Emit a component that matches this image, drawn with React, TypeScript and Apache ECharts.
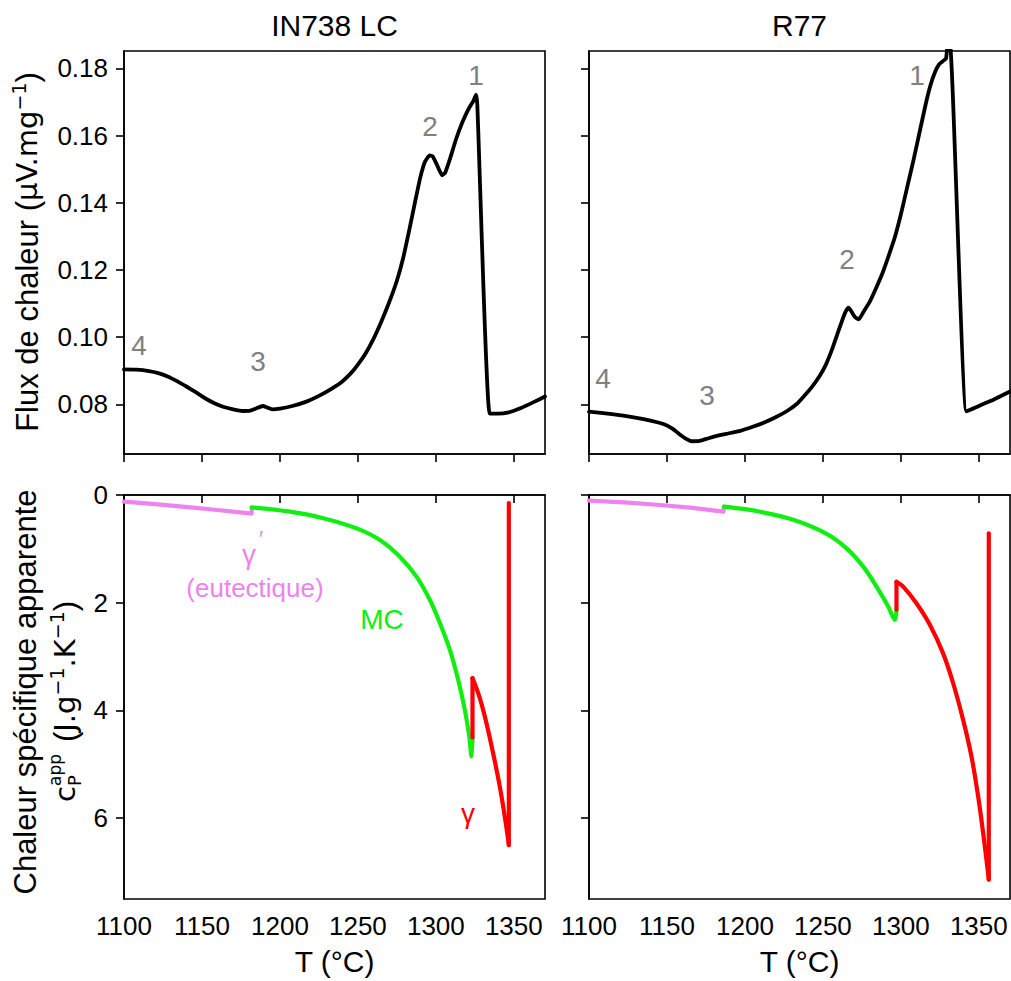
import React, { useEffect, useRef } from 'react';
import * as echarts from 'echarts';

const FONT = '"Liberation Sans", Arial, Helvetica, sans-serif';
const MATH = '"DejaVu Sans", sans-serif';

// ---- axes ticks ----
const xTicks = [1100, 1150, 1200, 1250, 1300, 1350];
const fluxTicks = [0.08, 0.1, 0.12, 0.14, 0.16, 0.18];
const cpTicks = [0, 2, 4, 6];

const panelTitles = ['IN738 LC', 'R77'];

// ---- heat flux (top row) ----
const fluxIN738: [number, number][] = [
  [1100, 0.0904], [1108, 0.0903], [1116, 0.0899], [1122, 0.0893], [1128, 0.0883], [1134, 0.0869],
  [1140, 0.0853], [1146, 0.0836], [1152, 0.0818], [1158, 0.0803], [1164, 0.0792], [1170, 0.0785],
  [1176, 0.078], [1181, 0.0781], [1185, 0.0788], [1189, 0.0795], [1192, 0.079], [1195, 0.0785],
  [1200, 0.0787], [1208, 0.0795], [1217, 0.0808], [1225, 0.0825], [1233, 0.0846], [1240, 0.0868],
  [1246, 0.0895], [1250, 0.0918], [1255, 0.0952], [1260, 0.0995], [1265, 0.1046], [1270, 0.1103],
  [1275, 0.1168], [1279, 0.1235], [1283, 0.132], [1287, 0.141], [1290, 0.1475], [1293, 0.1522],
  [1296, 0.1541], [1298, 0.1538], [1301, 0.151], [1304, 0.1482], [1306, 0.149], [1309, 0.153],
  [1313, 0.159], [1317, 0.164], [1321, 0.168], [1324, 0.1703], [1325.8, 0.1722], [1326.6, 0.169],
  [1334.5, 0.0772], [1340, 0.0772], [1346, 0.0775], [1355, 0.079], [1362, 0.0805], [1370, 0.0823],
];

const fluxR77: [number, number][] = [
  [1100, 0.0778], [1112, 0.0772], [1124, 0.0765], [1135, 0.0756], [1145, 0.0745], [1150, 0.0737],
  [1154, 0.0726], [1158, 0.0711], [1162, 0.0698], [1166, 0.069], [1171, 0.0691], [1176, 0.0698],
  [1180, 0.0704], [1188, 0.0712], [1197, 0.0721], [1205, 0.0733], [1212, 0.0745], [1220, 0.0762],
  [1227, 0.078], [1233, 0.08], [1238, 0.0825], [1243, 0.0852], [1248, 0.0885], [1252, 0.0919],
  [1256, 0.0965], [1259, 0.1005], [1262, 0.1045], [1264.5, 0.1075], [1266.5, 0.1088], [1268.5, 0.1075],
  [1270.5, 0.106], [1273, 0.1053], [1276, 0.1075], [1280, 0.1105], [1284, 0.1145], [1288, 0.1188],
  [1292, 0.124], [1296, 0.1295], [1300, 0.1365], [1304, 0.1445], [1308, 0.1525], [1312, 0.161],
  [1316, 0.1695], [1319, 0.175], [1322, 0.179], [1324.5, 0.1812], [1327, 0.1822], [1329, 0.183],
  [1330, 0.187], [1331.5, 0.187], [1342, 0.0779], [1350, 0.0795], [1360, 0.0815], [1370, 0.0838],
];

// ---- apparent specific heat (bottom row) ----
const cpIN738GammaPrime: [number, number][] = [
  [1100, 0.124], [1120, 0.17], [1141, 0.225], [1160, 0.278], [1181.8, 0.345], [1182, 0.235],
];
const cpIN738MC: [number, number][] = [
  [1181.8, 0.23], [1206.4, 0.31], [1227.8, 0.43], [1249.2, 0.62], [1264.1, 0.835], [1276.9, 1.145],
  [1287.6, 1.515], [1296.2, 1.95], [1302.6, 2.38], [1309, 2.876], [1314.3, 3.43], [1318.6, 3.99],
  [1321.4, 4.48], [1322.9, 4.855], [1323.5, 4.5],
];
const cpIN738GammaStep: [number, number][] = [[1323.5, 4.5], [1323.5, 3.4]];
const cpIN738Gamma: [number, number][] = [
  [1323.5, 3.4], [1328.2, 3.77], [1332.5, 4.24], [1336.7, 4.79], [1341, 5.41], [1344.2, 5.97],
  [1346.4, 6.4], [1346.8, 6.5],
];
const cpIN738GammaEnd: [number, number][] = [[1346.8, 6.5], [1346.8, 0.15]];

const cpR77GammaPrime: [number, number][] = [
  [1100, 0.105], [1125, 0.14], [1145.5, 0.186], [1165, 0.235], [1186.2, 0.31], [1186.5, 0.22],
];
const cpR77MC: [number, number][] = [
  [1186.5, 0.216], [1198, 0.255], [1209.6, 0.31], [1231, 0.46], [1252.4, 0.72], [1265.2, 0.99],
  [1275.9, 1.33], [1284.4, 1.7], [1291.9, 2.07], [1296.2, 2.32], [1297.2, 2.13],
];
const cpR77GammaStep: [number, number][] = [[1297.2, 2.13], [1297.2, 1.61]];
const cpR77Gamma: [number, number][] = [
  [1297.2, 1.61], [1301.5, 1.7], [1310, 2.01], [1318.6, 2.41], [1327.1, 2.94], [1333.5, 3.49],
  [1339.9, 4.17], [1345.3, 4.855], [1349.6, 5.6], [1352.8, 6.28], [1354.9, 6.77], [1356.4, 7.14],
];
const cpR77GammaEnd: [number, number][] = [[1356.4, 7.14], [1356.4, 0.71]];

const VIOLET = '#ee82ee';
const GREEN = '#11ee11';
const RED = '#ff0000';
const GREY = '#808080';

function txt(text: string, x: number, y: number, size: number, color: string, extra: any = {}) {
  return {
    type: 'text',
    x,
    y,
    silent: true,
    ...extra,
    style: {
      text,
      fill: color,
      fontSize: size,
      fontFamily: extra.family || FONT,
      textAlign: extra.align || 'center',
      align: extra.align || 'center',
      textVerticalAlign: 'middle',
      verticalAlign: 'middle',
      ...(extra.style || {}),
    },
  };
}

export default function App() {
  const ref = useRef<HTMLDivElement>(null);

  useEffect(() => {
    if (!ref.current) return;
    const chart = echarts.init(ref.current, undefined, { renderer: 'svg' });

    const grid = [
      { left: 124, top: 51, width: 421, height: 403 },
      { left: 589, top: 51, width: 421, height: 403 },
      { left: 124, top: 495, width: 421, height: 404 },
      { left: 589, top: 495, width: 421, height: 404 },
    ].map((g) => ({ ...g, show: true, borderColor: '#000', borderWidth: 1.6, backgroundColor: 'transparent' }));

    const mkX = (gi: number, showLabel: boolean) => ({
      type: 'value',
      gridIndex: gi,
      min: 1100,
      max: 1370,
      axisLine: { show: true, lineStyle: { color: '#000', width: 1.6 } },
      axisTick: { show: true, length: 8, lineStyle: { color: '#000', width: 1.6 }, customValues: xTicks },
      axisLabel: {
        show: showLabel,
        customValues: xTicks,
        fontSize: 26,
        color: '#000',
        fontFamily: FONT,
        margin: 14,
        formatter: (v: number) => String(v),
      },
      splitLine: { show: false },
      name: showLabel ? 'T (°C)' : '',
      nameLocation: 'middle',
      nameGap: 47,
      nameTextStyle: { fontSize: 30, color: '#000', fontFamily: FONT },
    });

    const mkYFlux = (gi: number, showLabel: boolean) => ({
      type: 'value',
      gridIndex: gi,
      min: 0.0652,
      max: 0.1852,
      axisLine: { show: true, lineStyle: { color: '#000', width: 1.6 } },
      axisTick: { show: true, length: 8, lineStyle: { color: '#000', width: 1.6 }, customValues: fluxTicks },
      axisLabel: {
        show: showLabel,
        customValues: fluxTicks,
        fontSize: 26,
        color: '#000',
        fontFamily: FONT,
        margin: 16,
        formatter: (v: number) => v.toFixed(2),
      },
      splitLine: { show: false },
    });

    const mkYCp = (gi: number, showLabel: boolean) => ({
      type: 'value',
      gridIndex: gi,
      min: 0,
      max: 7.5,
      inverse: true,
      axisLine: { show: true, lineStyle: { color: '#000', width: 1.6 } },
      axisTick: { show: true, length: 8, lineStyle: { color: '#000', width: 1.6 }, customValues: cpTicks },
      axisLabel: {
        show: showLabel,
        customValues: cpTicks,
        fontSize: 26,
        color: '#000',
        fontFamily: FONT,
        margin: 16,
        formatter: (v: number) => String(v),
      },
      splitLine: { show: false },
    });

    const line = (data: [number, number][], gi: number, color: string, smooth: number | boolean = false) => ({
      type: 'line',
      xAxisIndex: gi,
      yAxisIndex: gi,
      data,
      showSymbol: false,
      symbol: 'none',
      smooth,
      clip: true,
      lineStyle: { color, width: color === '#000' ? 3.8 : 4.2, join: 'round', cap: 'round' },
      z: 3,
    });

    const richSup = { fontSize: 19, fontFamily: MATH, fill: '#000', verticalAlign: 'top', lineHeight: 20 };
    const richN = { fontSize: 31, fontFamily: FONT, fill: '#000', lineHeight: 36 };
    const richM = { fontSize: 29, fontFamily: MATH, fill: '#000', lineHeight: 36 };

    const graphic: any[] = [
      txt(panelTitles[0], 334.5, 25, 30, '#000'),
      txt(panelTitles[1], 799.5, 25, 30, '#000'),
      // top-left peak labels
      txt('1', 476, 75, 28, GREY),
      txt('2', 430, 126, 28, GREY),
      txt('3', 258, 361, 28, GREY),
      txt('4', 139, 345, 28, GREY),
      // top-right peak labels
      txt('1', 917, 75, 28, GREY),
      txt('2', 847, 259, 28, GREY),
      txt('3', 707, 395, 28, GREY),
      txt('4', 603, 378, 28, GREY),
      // bottom-left phase labels
      txt('γ', 249, 554, 28, VIOLET),
      txt('′', 261, 538, 22, VIOLET),
      txt('(eutectique)', 255, 588, 26, VIOLET),
      txt('MC', 382, 619, 28, GREEN),
      txt('γ', 468, 813, 28, RED),
      // y axis label, top
      {
        type: 'text',
        x: 27,
        y: 252,
        rotation: Math.PI / 2,
        silent: true,
        style: {
          text: '{n|Flux de chaleur (}{m|μV.mg}{s|−1}{n|)}',
          fill: '#000',
          fontSize: 31,
          fontFamily: FONT,
          textAlign: 'center',
          align: 'center',
          textVerticalAlign: 'middle',
          verticalAlign: 'middle',
          rich: { n: richN, m: richM, s: richSup },
        },
      },
      // y axis label, bottom line 1
      txt('Chaleur spécifique apparente', 25, 692, 31, '#000', { rotation: Math.PI / 2 }),
      // y axis label, bottom line 2
      {
        type: 'group',
        x: 65,
        y: 802,
        rotation: Math.PI / 2,
        silent: true,
        children: [
          txt('c', 0, 0, 29, '#000', { align: 'left', family: MATH }),
          txt('app', 16, -10, 17, '#000', { align: 'left', family: MATH }),
          txt('P', 16, 9, 18, '#000', { align: 'left', family: MATH }),
          {
            type: 'text',
            x: 60,
            y: 0,
            silent: true,
            style: {
              text: '{n|(}{m|J.g}{s|−1}{m|.K}{s|−1}{n|)}',
              fill: '#000',
              fontSize: 31,
              fontFamily: FONT,
              textAlign: 'left',
              align: 'left',
              textVerticalAlign: 'middle',
              verticalAlign: 'middle',
              rich: { n: richN, m: richM, s: richSup },
            },
          },
        ],
      },
    ];

    chart.setOption({
      animation: false,
      backgroundColor: '#fff',
      textStyle: { fontFamily: FONT },
      grid,
      xAxis: [mkX(0, false), mkX(1, false), mkX(2, true), mkX(3, true)],
      yAxis: [mkYFlux(0, true), mkYFlux(1, false), mkYCp(2, true), mkYCp(3, false)],
      series: [
        line(fluxIN738, 0, '#000', 0.15),
        line(fluxR77, 1, '#000', 0.15),
        line(cpIN738GammaPrime, 2, VIOLET),
        line(cpIN738MC, 2, GREEN, 0.35),
        line(cpIN738GammaStep, 2, RED),
        line(cpIN738Gamma, 2, RED, 0.35),
        line(cpIN738GammaEnd, 2, RED),
        line(cpR77GammaPrime, 3, VIOLET),
        line(cpR77MC, 3, GREEN, 0.35),
        line(cpR77GammaStep, 3, RED),
        line(cpR77Gamma, 3, RED, 0.35),
        line(cpR77GammaEnd, 3, RED),
      ],
      graphic,
    });

    return () => chart.dispose();
  }, []);

  return <div ref={ref} style={{ position: 'fixed', left: 0, top: 0, width: 1011, height: 981 }} />;
}
